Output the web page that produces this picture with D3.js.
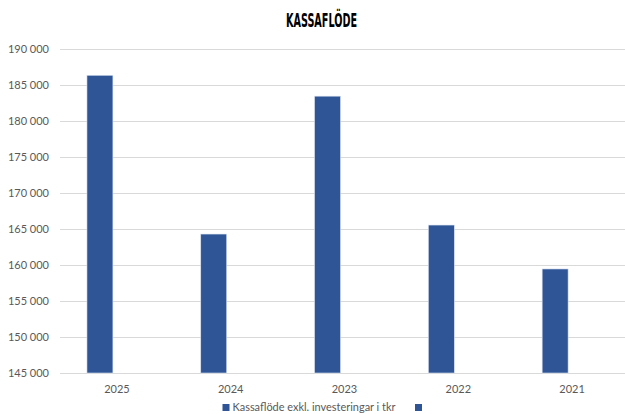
<!DOCTYPE html>
<html>
<head>
<meta charset="utf-8">
<script src="https://cdn.jsdelivr.net/npm/d3@7"></script>
<style>
  html, body { margin: 0; padding: 0; background: #fff; }
  svg { display: block; }
  .tick-label { font-family: Lato, "Open Sans", sans-serif; font-size: 11px; fill: #595959; }
</style>
</head>
<body>
<div id="chart"></div>
<script>
// Kassaflöde per år (tkr)
const years = ["2025", "2024", "2023", "2022", "2021"];
const cashFlow = [186350, 164300, 183450, 165550, 159450];
const seriesNames = ["Kassaflöde exkl. investeringar i tkr", ""];
const yTicks = [145000, 150000, 155000, 160000, 165000, 170000, 175000, 180000, 185000, 190000];

const width = 625;
const height = 414;
const margin = { top: 49, right: -4, bottom: 41, left: 60 };

const svg = d3.select("#chart")
  .append("svg")
  .attr("width", width)
  .attr("height", height);

// title
svg.append("text")
  .attr("x", 321.5)
  .attr("y", 27)
  .attr("text-anchor", "middle")
  .attr("font-family", "'Liberation Sans Narrow', 'DejaVu Sans Condensed', sans-serif")
  .attr("font-weight", "bold")
  .attr("font-size", 19.5)
  .attr("textLength", 71)
  .attr("lengthAdjust", "spacingAndGlyphs")
  .attr("fill", "#000")
  .text("KASSAFLÖDE");

const x = d3.scaleBand()
  .domain(years)
  .range([margin.left, width - margin.right])
  .paddingInner(0)
  .paddingOuter(0);

const xSeries = d3.scaleBand()
  .domain(seriesNames)
  .range([0, x.bandwidth()])
  .paddingInner(0.235)
  .paddingOuter(0.794);

const y = d3.scaleLinear()
  .domain([145000, 190000])
  .range([height - margin.bottom, margin.top]);

const fmt = v => d3.format(",")(v).replace(/,/g, " ");

// gridlines
svg.append("g")
  .selectAll("line")
  .data(yTicks)
  .join("line")
  .attr("x1", margin.left)
  .attr("x2", width)
  .attr("y1", d => Math.round(y(d)) + 0.5)
  .attr("y2", d => Math.round(y(d)) + 0.5)
  .attr("stroke", "#d9d9d9")
  .attr("stroke-width", 1);

// y axis labels
const yAxisG = svg.append("g")
  .attr("transform", `translate(${margin.left - 11},0)`)
  .call(d3.axisLeft(y).tickValues(yTicks).tickFormat(fmt).tickSize(0).tickPadding(0));
yAxisG.select(".domain").remove();
yAxisG.selectAll("text")
  .attr("class", "tick-label")
  .attr("dy", "0.35em");

// bars
svg.append("g")
  .selectAll("rect")
  .data(years.map((yr, i) => ({ year: yr, value: cashFlow[i] })))
  .join("rect")
  .attr("x", d => x(d.year) + xSeries(seriesNames[0]))
  .attr("width", xSeries.bandwidth())
  .attr("y", d => y(d.value))
  .attr("height", d => y(145000) - y(d.value))
  .attr("fill", "#2f5597")
  .attr("stroke", "#dbe3f1")
  .attr("stroke-width", 0.6);

// x axis labels
const xAxisG = svg.append("g")
  .attr("transform", `translate(0,${height - margin.bottom})`)
  .call(d3.axisBottom(x).tickSize(0).tickPadding(0));
xAxisG.select(".domain").remove();
xAxisG.selectAll("text")
  .attr("class", "tick-label")
  .attr("y", 20)
  .attr("dy", 0);

// legend
const legend = svg.append("g");
const legendItems = [
  { name: seriesNames[0], x: 222.5 },
  { name: seriesNames[1], x: 415 }
];
legend.selectAll("rect")
  .data(legendItems)
  .join("rect")
  .attr("x", d => d.x)
  .attr("y", 404)
  .attr("width", 7)
  .attr("height", 7)
  .attr("fill", "#2f5597");
legend.selectAll("text")
  .data(legendItems)
  .join("text")
  .attr("class", "tick-label")
  .attr("x", d => d.x + 10)
  .attr("y", 411)
  .attr("textLength", d => d.name ? 163 : null)
  .attr("lengthAdjust", "spacingAndGlyphs")
  .text(d => d.name);
</script>
</body>
</html>
